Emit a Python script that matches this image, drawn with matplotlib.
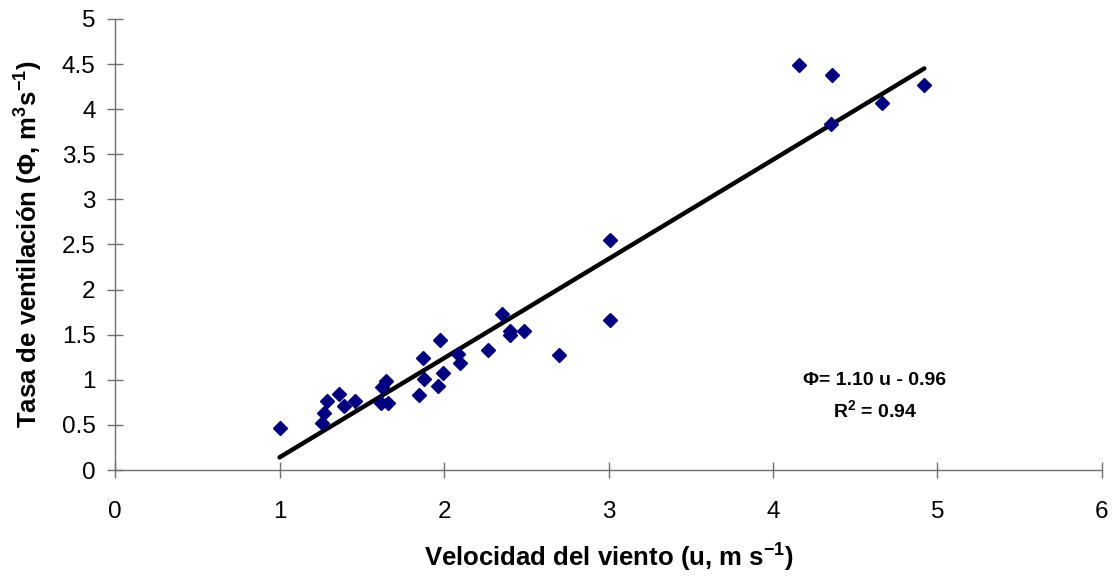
import numpy as np
import matplotlib
matplotlib.use("Agg")
import matplotlib.pyplot as plt

plt.rcParams['font.family'] = ['Liberation Sans', 'DejaVu Sans']
plt.rcParams['mathtext.fontset'] = 'custom'
plt.rcParams['mathtext.rm'] = 'Liberation Sans'
plt.rcParams['mathtext.bf'] = 'Liberation Sans:bold'
plt.rcParams['mathtext.default'] = 'bf'

# wind speed (m/s) and ventilation rate (m3/s)
u = [1.00, 1.26, 1.27, 1.29, 1.36, 1.39, 1.46, 1.615, 1.657, 1.62, 1.65,
     1.845, 1.88, 1.875, 1.965, 1.996, 1.974, 2.083, 2.10, 2.265, 2.35,
     2.40, 2.404, 2.486, 2.70, 3.01, 3.01, 4.16, 4.36, 4.35, 4.66, 4.92]
phi = [0.47, 0.52, 0.635, 0.765, 0.84, 0.71, 0.765, 0.746, 0.74, 0.92, 0.99,
       0.835, 1.005, 1.24, 0.935, 1.08, 1.44, 1.29, 1.19, 1.33, 1.73,
       1.50, 1.545, 1.545, 1.28, 1.66, 2.55, 4.49, 4.38, 3.84, 4.065, 4.27]

slope = 1.10
intercept = -0.96
r2 = 0.94

fig = plt.figure(figsize=(11.19, 5.82), dpi=100)
ax = fig.add_axes([0.1028, 0.1924, 0.882, 0.775])

ax.plot(u, phi, 'D', color='#000080', markersize=7.5, zorder=3)
xl = np.array([min(u), max(u)])
ax.plot(xl, slope * xl + intercept, color='black', lw=3.2,
        solid_capstyle='round', zorder=2)

ax.set_xlim(0, 6)
ax.set_ylim(0, 5)
ax.set_xticks(range(0, 7))
ax.set_yticks(np.arange(0, 5.01, 0.5))
ax.set_yticklabels(['0', '0.5', '1', '1.5', '2', '2.5', '3', '3.5', '4', '4.5', '5'])
ax.spines['top'].set_visible(False)
ax.spines['right'].set_visible(False)
for s in ['left', 'bottom']:
    ax.spines[s].set_color('#707070')
    ax.spines[s].set_linewidth(1.0)
ax.tick_params(direction='inout', length=12, width=1, color='#707070',
               labelsize=17.5)
ax.tick_params(axis='y', pad=8)
ax.tick_params(axis='x', pad=16)

ax.set_xlabel('Velocidad del viento (u, m s$^{-1}$)', fontsize=18.5,
              fontweight='bold', labelpad=14)
ax.set_ylabel('Tasa de ventilación (Φ, m$^{3}$s$^{-1}$)', fontsize=18.5,
              fontweight='bold', labelpad=12)

ax.text(4.62, 0.99, f'Φ= {slope:.2f} u - {abs(intercept):.2f}', ha='center',
        va='center', fontsize=14, fontweight='bold')
ax.text(4.62, 0.66, f'R$^{{2}}$ = {r2:.2f}', ha='center', va='center',
        fontsize=14, fontweight='bold')

fig.savefig('out.png', dpi=100)
